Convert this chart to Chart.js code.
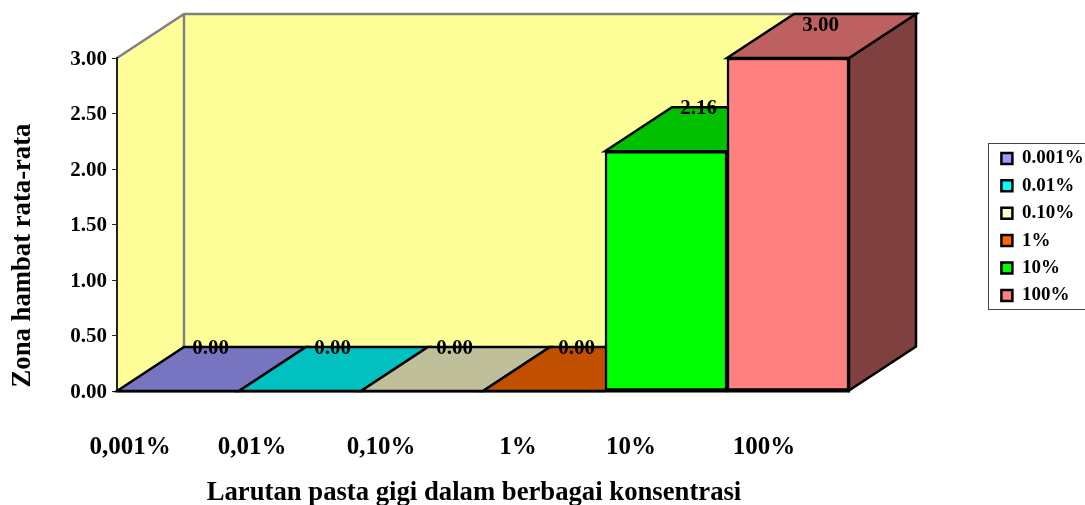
<!DOCTYPE html>
<html>
<head>
<meta charset="utf-8">
<title>Zona hambat</title>
<script src="https://cdn.jsdelivr.net/npm/chart.js@4/dist/chart.umd.js"></script>
<style>
	body { margin: 0; background: #fff; }
	canvas { display: block; }
</style>
</head>
<body>
<canvas id="grafik" width="1085" height="505"></canvas>
<script>
var kategori = ['0,001%', '0,01%', '0,10%', '1%', '10%', '100%'];
var legenda = ['0.001%', '0.01%', '0.10%', '1%', '10%', '100%'];
var nilai = [0, 0, 0, 0, 2.16, 3];
var warnaDepan = ['#9999FF', '#00FFFF', '#FFFFCC', '#FF6600', '#00FF00', '#FF8080'];
var warnaAtas = ['#7875C0', '#00C0C0', '#BFBF99', '#C04F00', '#00C000', '#BF6060'];
var warnaSisi = ['#4D4D80', '#008080', '#808066', '#803300', '#008000', '#804040'];

// geser label sumbu x, di gambar asli tidak pas di tengah batang
var geserLabel = [-48, -48, -41, -26, -35, -24];
var dalamX = 67, dalamY = 44;
var serif = '"Liberation Serif", serif';

function poligon(ctx, titik, isi, garis, tebal) {
	ctx.beginPath();
	titik.forEach(function (p, i) {
		if (i == 0) ctx.moveTo(p[0], p[1]); else ctx.lineTo(p[0], p[1]);
	});
	ctx.closePath();
	ctx.fillStyle = isi;
	ctx.fill();
	if (garis) {
		ctx.strokeStyle = garis;
		ctx.lineWidth = tebal;
		ctx.stroke();
	}
}

function geserJudul(skala, dx, dy) {
	var asli = skala.drawTitle;
	skala.drawTitle = function () {
		this.ctx.save();
		this.ctx.translate(dx, dy);
		asli.call(this);
		this.ctx.restore();
	};
}

var tiga_d = {
	id: 'tiga_d',
	beforeLayout: function (chart) {
		// lebar kolom legenda dikunci supaya area plot berhenti di x=849
		var lg = chart.legend;
		if (lg._fitAsli) return;
		lg._fitAsli = lg.fit;
		lg.fit = function () {
			this._fitAsli();
			this.width = 236;
		};
	},
	afterLayout: function (chart) {
		var lg = chart.legend;
		lg.left = 993; lg.right = 1085; lg.width = 92;
		lg.top = 140.5; lg.bottom = 320; lg.height = 179.5;

		var sx = chart.scales.x, sy = chart.scales.y;
		sx.getLabelItems().forEach(function (item, i) {
			item.options.translation[0] += geserLabel[i];
		});
		sy.getLabelItems().forEach(function (item) {
			item.options.translation[1] += 1.5;
		});
		if (!sx._sudah) {
			sx._sudah = true;
			geserJudul(sx, -9, 4);
			geserJudul(sy, 7, 31);
		}
	},
	beforeDraw: function (chart) {
		var ctx = chart.ctx, a = chart.chartArea;
		var atas = a.top - dalamY, bawah = a.bottom - dalamY;
		var kiri = a.left + dalamX, kanan = a.right + dalamX;
		ctx.save();
		poligon(ctx, [[a.left, a.top], [kiri, atas], [kiri, bawah], [a.left, a.bottom]], '#FFFF99');
		poligon(ctx, [[kiri, atas], [kanan, atas], [kanan, bawah], [kiri, bawah]], '#FFFF99');
		ctx.strokeStyle = '#808080';
		ctx.lineWidth = 2.5;
		ctx.beginPath();
		ctx.moveTo(a.left, a.top);
		ctx.lineTo(kiri, atas);
		ctx.lineTo(kanan, atas);
		ctx.moveTo(kiri, atas);
		ctx.lineTo(kiri, bawah);
		ctx.stroke();
		// kotak legenda
		ctx.strokeStyle = '#444';
		ctx.lineWidth = 1;
		ctx.strokeRect(988.5, 143.5, 110, 166);
		ctx.restore();
	},
	beforeDatasetsDraw: function (chart) {
		var ctx = chart.ctx;
		ctx.save();
		ctx.lineJoin = 'miter';
		chart.getDatasetMeta(0).data.forEach(function (el, i) {
			var l = el.x - el.width / 2, r = el.x + el.width / 2;
			poligon(ctx, [[r, el.y], [r + dalamX, el.y - dalamY], [r + dalamX, el.base - dalamY], [r, el.base]], warnaSisi[i], '#000', 2.5);
			poligon(ctx, [[l, el.y], [l + dalamX, el.y - dalamY], [r + dalamX, el.y - dalamY], [r, el.y]], warnaAtas[i], '#000', 2.5);
		});
		ctx.restore();
	},
	afterDatasetsDraw: function (chart) {
		var ctx = chart.ctx;
		ctx.save();
		ctx.font = 'bold 21px ' + serif;
		ctx.fillStyle = '#000';
		ctx.textAlign = 'center';
		ctx.textBaseline = 'middle';
		chart.getDatasetMeta(0).data.forEach(function (el, i) {
			ctx.fillText(nilai[i].toFixed(2), el.x + dalamX / 2 - 1, Math.max(el.y - dalamY, 24) + 1.5);
		});
		ctx.restore();
	}
};

var grafikku = new Chart(document.getElementById('grafik'), {
	type: 'bar',
	plugins: [tiga_d],
	data: {
		labels: kategori,
		datasets: [{
			data: nilai,
			backgroundColor: warnaDepan,
			borderColor: '#000',
			borderWidth: 2.5,
			borderSkipped: false,
			categoryPercentage: 1,
			barPercentage: 1
		}]
	},
	options: {
		responsive: false,
		animation: false,
		font: { family: serif },
		layout: { padding: { top: 58, left: 0, right: 0, bottom: 0 } },
		plugins: {
			tooltip: { enabled: false },
			legend: {
				position: 'right',
				align: 'start',
				labels: {
					boxWidth: 11,
					boxHeight: 11,
					padding: 8.4,
					color: '#000',
					font: { family: serif, size: 19, weight: 'bold' },
					generateLabels: function () {
						return legenda.map(function (t, i) {
							return { text: t, fillStyle: warnaDepan[i], strokeStyle: '#000', lineWidth: 2.5, index: i };
						});
					}
				}
			}
		},
		scales: {
			x: {
				afterFit: function (s) { s.height = 114; },
				grid: { drawOnChartArea: false, drawTicks: false },
				border: { color: '#000', width: 2.5 },
				ticks: {
					autoSkip: false,
					maxRotation: 0,
					padding: 42,
					color: '#000',
					font: { family: serif, size: 25, weight: 'bold' }
				},
				title: {
					display: true,
					text: 'Larutan pasta gigi dalam berbagai konsentrasi',
					color: '#000',
					padding: { top: 0, bottom: 0 },
					font: { family: serif, size: 26.7, weight: 'bold' }
				}
			},
			y: {
				min: 0,
				max: 3,
				afterFit: function (s) { s.width = 117; },
				grid: { drawOnChartArea: false, tickLength: 5, tickColor: '#222' },
				border: { color: '#222', width: 2 },
				ticks: {
					stepSize: 0.5,
					padding: 5,
					color: '#000',
					font: { family: serif, size: 21, weight: 'bold' },
					callback: function (v) { return v.toFixed(2); }
				},
				title: {
					display: true,
					text: 'Zona hambat rata-rata',
					color: '#000',
					padding: { top: 0, bottom: 0 },
					font: { family: serif, size: 26.7, weight: 'bold' }
				}
			}
		}
	}
});
</script>
</body>
</html>
